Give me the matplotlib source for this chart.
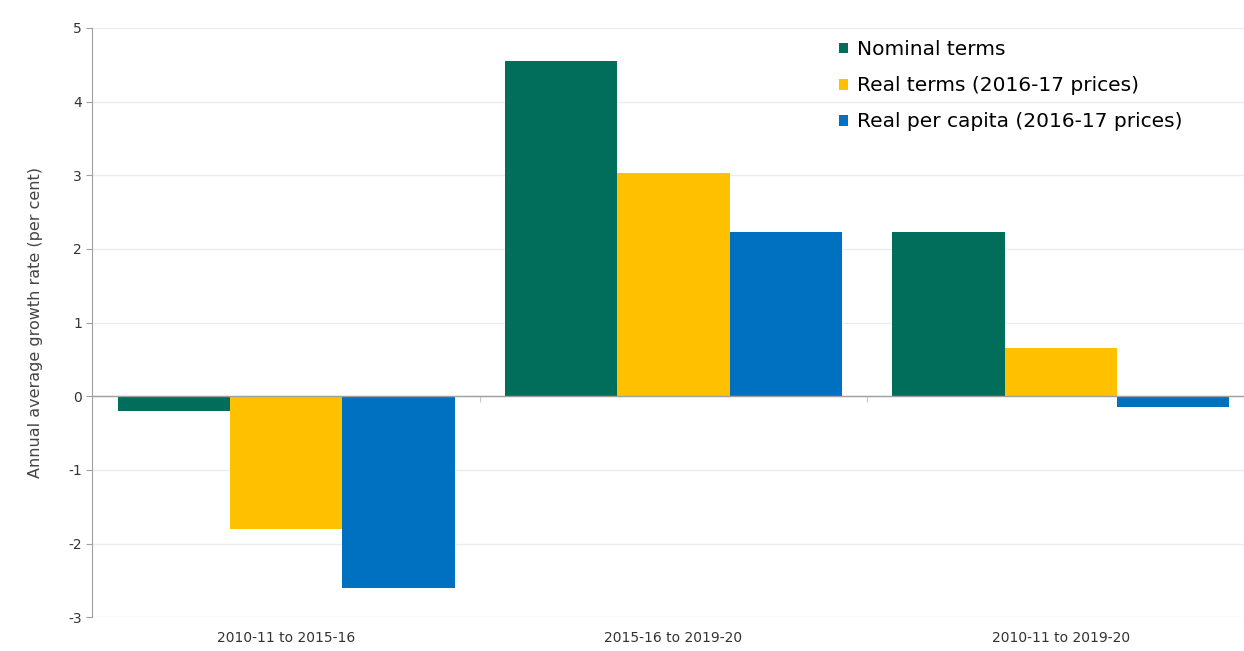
import matplotlib
matplotlib.use("Agg")
import matplotlib.pyplot as plt
import numpy as np

categories = ["2010-11 to 2015-16", "2015-16 to 2019-20", "2010-11 to 2019-20"]
series_names = ["Nominal terms", "Real terms (2016-17 prices)", "Real per capita (2016-17 prices)"]
nominal = [-0.2, 4.55, 2.23]
real = [-1.8, 3.03, 0.65]
per_capita = [-2.6, 2.23, -0.15]
colors = ["#006e5a", "#ffc000", "#0070c0"]

plt.rcParams['font.family'] = ['DejaVu Sans']
plt.rcParams['axes.unicode_minus'] = False

fig = plt.figure(figsize=(12.44, 6.51), dpi=100)
ax = fig.add_axes([0.0743, 0.052, 0.934, 0.905])

x = np.arange(len(categories))
w = 0.29
for i, (vals, name, c) in enumerate(zip([nominal, real, per_capita], series_names, colors)):
    ax.bar(x + (i - 1) * w, vals, w, color=c, label=name, zorder=3)

ax.set_xlim(-0.5, 2.5)
ax.set_ylim(-3, 5)
ax.set_yticks(range(-3, 6))
ax.yaxis.grid(True, color="#ececec", linewidth=1, zorder=0)
ax.axhline(0, color="#a0a0a0", linewidth=1, zorder=4)
for s in ["top", "right", "bottom"]:
    ax.spines[s].set_visible(False)
ax.spines["left"].set_color("#a0a0a0")
ax.tick_params(axis="y", colors="#a0a0a0", labelcolor="#333333", labelsize=10, length=4)
ax.tick_params(axis="x", length=0, labelsize=10, labelcolor="#333333", pad=10)
ax.set_xticks(x)
ax.set_xticklabels(categories)
ax.set_ylabel("Annual average growth rate (per cent)", fontsize=11.5, color="#444444", labelpad=18)

# small separator ticks on the zero line
sec = ax.secondary_xaxis(3 / 8)
sec.spines["bottom"].set_visible(False)
sec.set_xticks([0.5, 1.5])
sec.set_xticklabels([])
sec.tick_params(length=4, color="#c8c8c8")

leg = ax.legend(loc="upper left", bbox_to_anchor=(0.627, 1.01), frameon=False, fontsize=14.5,
                handlelength=0.45, handleheight=0.45, handletextpad=0.45, labelspacing=0.85)

fig.savefig("out.png", dpi=100)
